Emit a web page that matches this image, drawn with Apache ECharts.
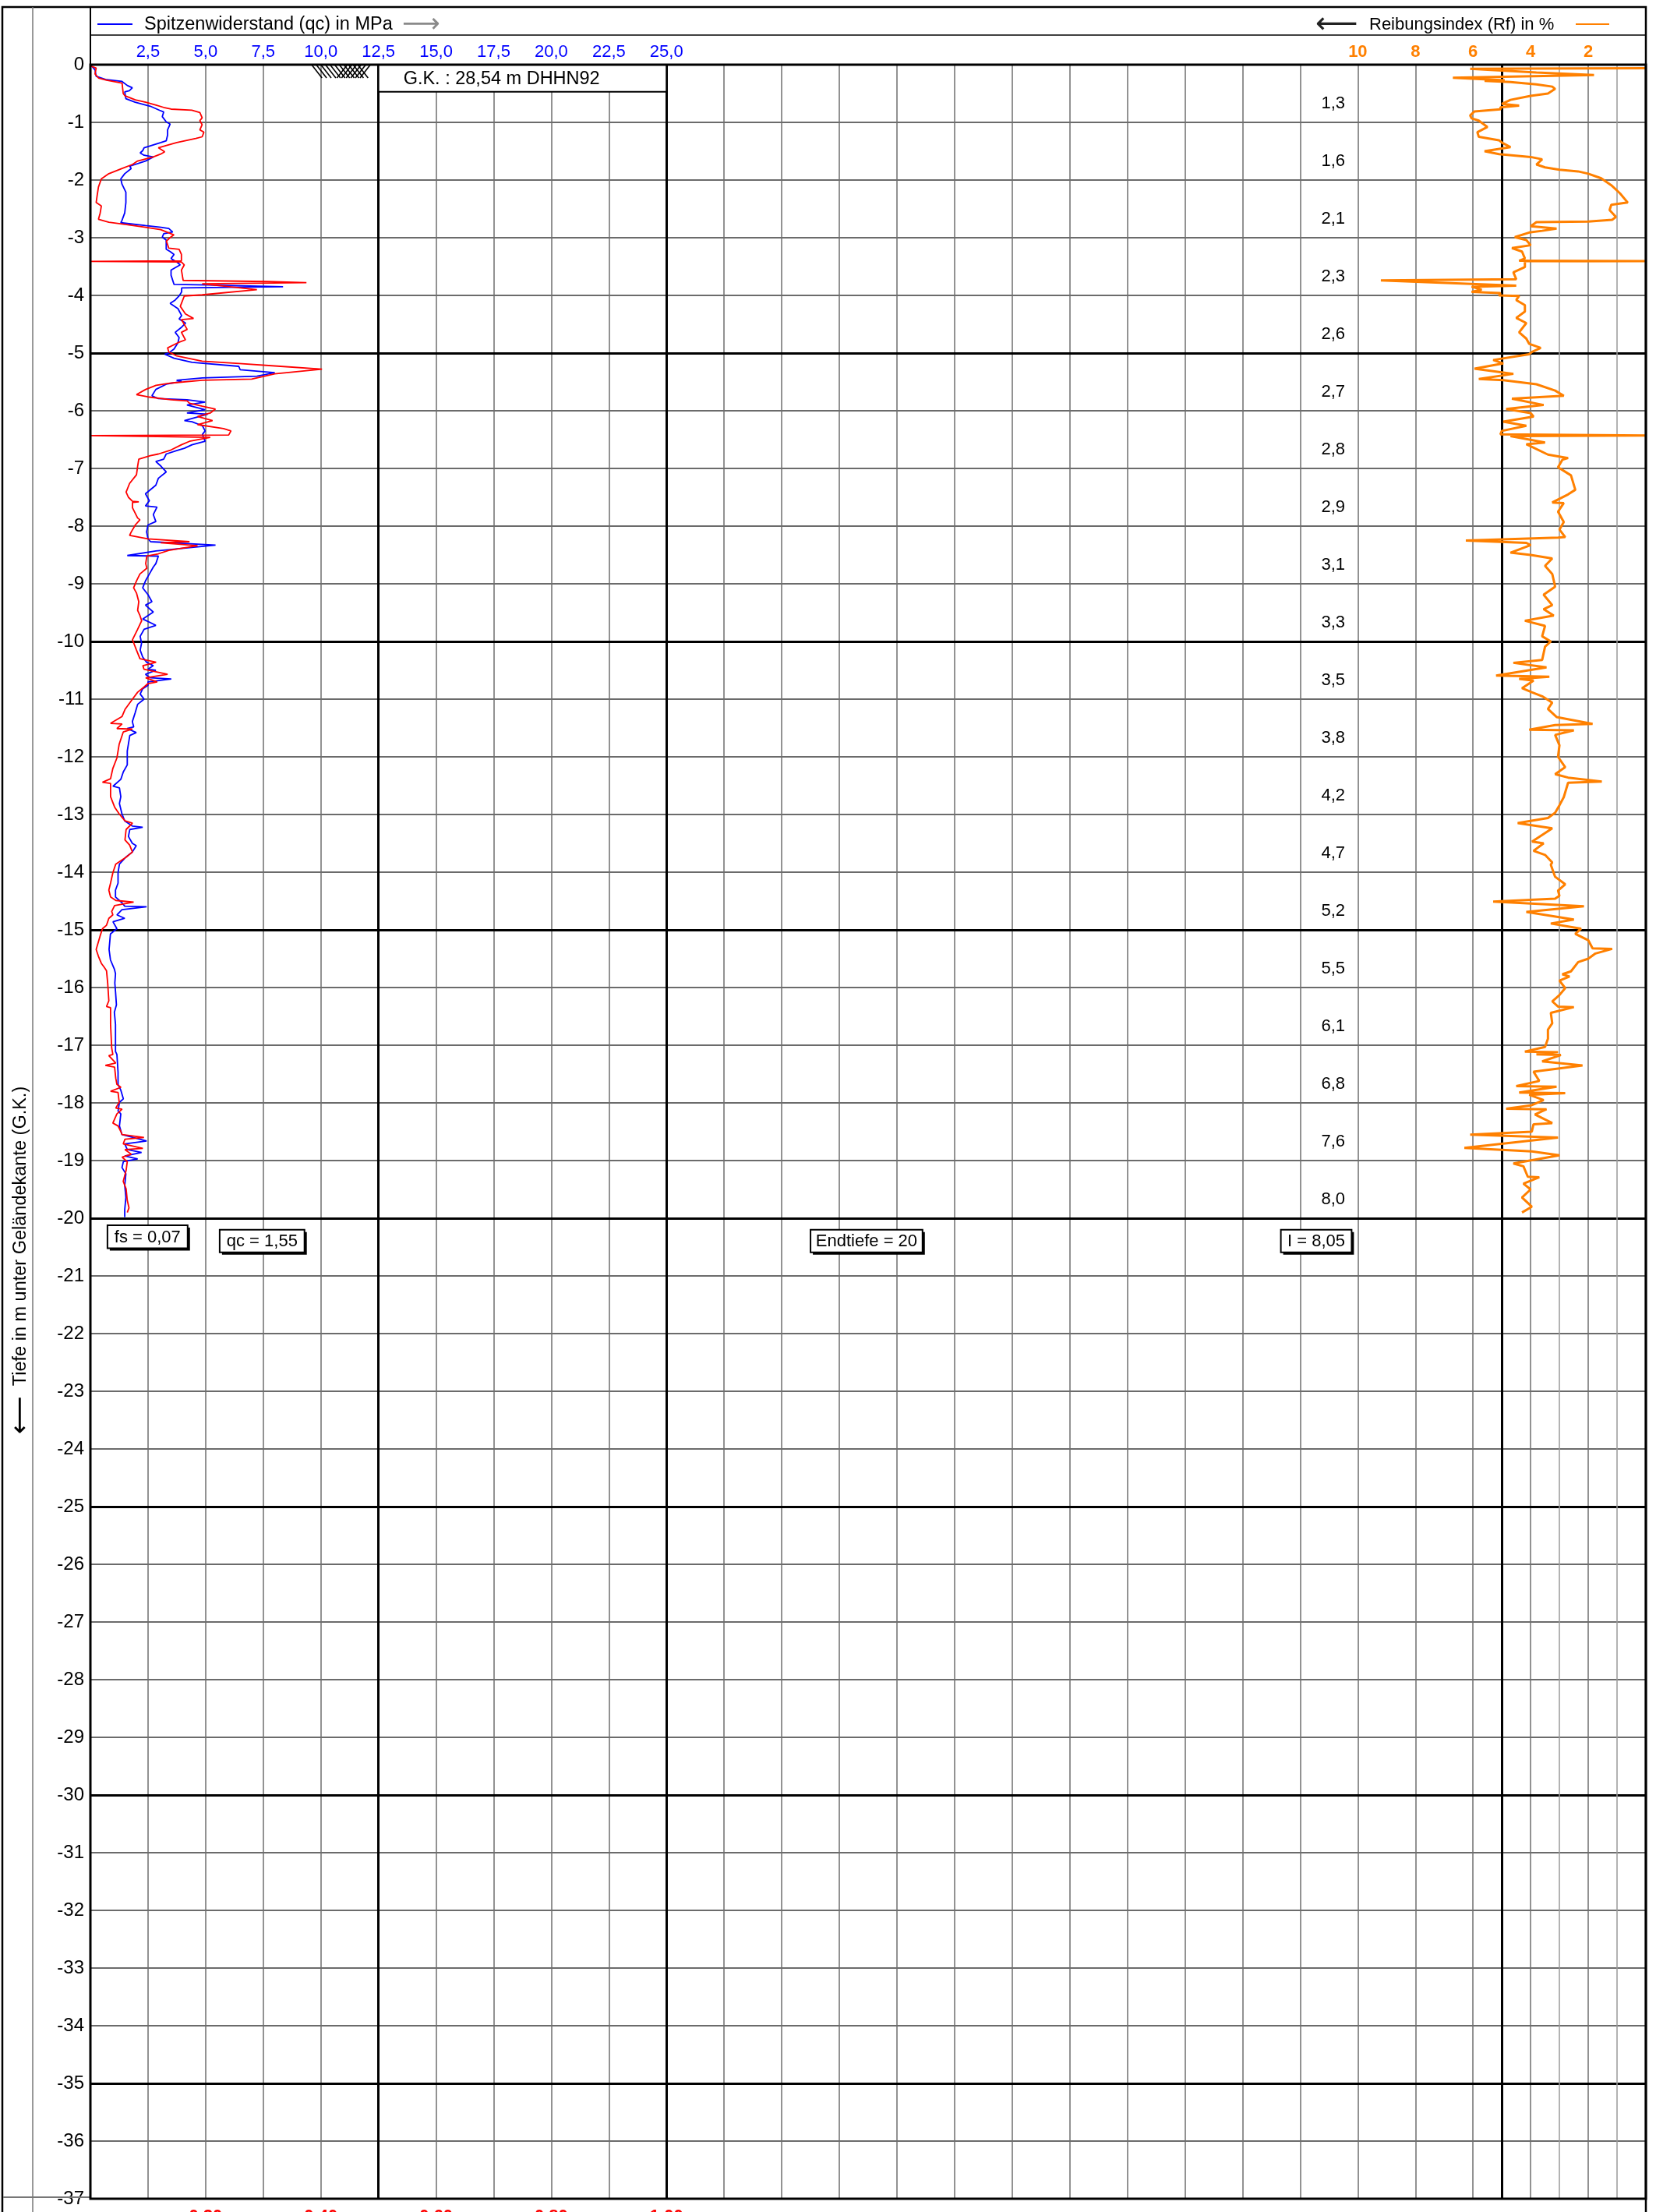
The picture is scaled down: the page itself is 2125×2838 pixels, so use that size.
<!DOCTYPE html>
<html>
<head>
<meta charset="utf-8">
<script src="https://cdn.jsdelivr.net/npm/echarts@6/dist/echarts.min.js"></script>
<style>
  html, body { margin: 0; padding: 0; background: #fff; }
  #chart { width: 2125px; height: 2838px; }
</style>
</head>
<body>
<div id="chart"></div>
<script>
// Cone resistance qc [MPa, level m]
const qcProfile = [[0,0],[0.2,-0.09],[0.25,-0.2],[0.7,-0.26],[1.37,-0.29],[1.6,-0.36],[1.82,-0.4],[1.69,-0.45],[1.49,-0.47],[1.54,-0.59],[1.94,-0.65],[2.6,-0.72],[3.0,-0.79],[3.18,-0.82],[3.12,-0.9],[3.29,-0.99],[3.46,-1.03],[3.35,-1.13],[3.35,-1.22],[3.29,-1.32],[3.06,-1.35],[2.33,-1.44],[2.27,-1.49],[2.16,-1.53],[2.33,-1.57],[2.73,-1.6],[2.39,-1.67],[1.71,-1.76],[1.77,-1.8],[1.49,-1.89],[1.32,-1.98],[1.37,-2.07],[1.54,-2.21],[1.54,-2.39],[1.49,-2.57],[1.37,-2.7],[1.32,-2.74],[2.39,-2.79],[3.06,-2.82],[3.4,-2.84],[3.57,-2.9],[3.18,-2.93],[3.12,-2.99],[3.29,-3.04],[3.29,-3.2],[3.46,-3.24],[3.63,-3.29],[3.5,-3.36],[3.74,-3.42],[3.9,-3.47],[3.5,-3.56],[3.5,-3.65],[3.63,-3.81],[5.09,-3.82],[8.36,-3.85],[6.0,-3.86],[3.96,-3.87],[3.96,-3.94],[3.85,-4.01],[3.68,-4.08],[3.46,-4.14],[3.8,-4.23],[3.96,-4.35],[3.85,-4.41],[4.13,-4.48],[3.96,-4.55],[3.68,-4.64],[3.85,-4.73],[3.8,-4.82],[3.63,-4.93],[3.4,-5.0],[3.23,-5.02],[3.63,-5.09],[4.41,-5.16],[6.44,-5.23],[6.5,-5.29],[8.0,-5.34],[7.23,-5.4],[4.86,-5.43],[3.74,-5.47],[3.96,-5.49],[3.29,-5.54],[2.84,-5.63],[2.67,-5.74],[2.95,-5.79],[4.19,-5.81],[4.98,-5.85],[4.19,-5.9],[4.98,-5.98],[4.19,-6.04],[5.09,-6.06],[4.08,-6.17],[4.41,-6.19],[4.86,-6.26],[4.98,-6.35],[4.86,-6.41],[4.98,-6.53],[4.41,-6.59],[4.08,-6.65],[3.74,-6.69],[3.29,-6.75],[3.18,-6.84],[2.84,-6.88],[3.06,-6.96],[3.29,-7.06],[2.95,-7.17],[2.84,-7.29],[2.39,-7.44],[2.56,-7.56],[2.39,-7.65],[2.89,-7.67],[2.73,-7.8],[2.84,-7.92],[2.5,-7.98],[2.44,-8.1],[2.5,-8.22],[2.61,-8.27],[5.43,-8.33],[2.84,-8.43],[1.6,-8.51],[2.95,-8.52],[2.84,-8.65],[2.73,-8.71],[2.56,-8.83],[2.39,-8.95],[2.27,-9.07],[2.5,-9.19],[2.67,-9.31],[2.39,-9.37],[2.73,-9.49],[2.27,-9.61],[2.84,-9.72],[2.33,-9.79],[2.16,-9.91],[2.22,-10.03],[2.16,-10.15],[2.27,-10.27],[2.44,-10.36],[2.73,-10.42],[2.5,-10.48],[2.84,-10.5],[2.39,-10.57],[2.61,-10.63],[3.51,-10.65],[2.5,-10.7],[2.5,-10.76],[2.27,-10.82],[2.16,-10.91],[2.33,-11.0],[2.05,-11.09],[1.94,-11.24],[1.82,-11.39],[1.88,-11.48],[1.6,-11.51],[1.99,-11.58],[1.71,-11.63],[1.6,-11.9],[1.6,-12.14],[1.43,-12.26],[1.32,-12.39],[0.98,-12.51],[1.26,-12.54],[1.32,-12.69],[1.26,-12.81],[1.37,-12.99],[1.49,-13.11],[1.82,-13.2],[2.27,-13.22],[1.71,-13.26],[1.65,-13.38],[1.82,-13.5],[1.99,-13.54],[1.82,-13.65],[1.54,-13.74],[1.26,-13.86],[1.2,-14.01],[1.2,-14.19],[1.09,-14.31],[1.09,-14.43],[1.37,-14.53],[1.49,-14.59],[2.44,-14.6],[1.37,-14.65],[1.15,-14.74],[1.49,-14.8],[0.98,-14.86],[1.15,-14.98],[0.87,-15.07],[0.81,-15.34],[0.87,-15.52],[1.04,-15.68],[1.09,-15.76],[1.06,-15.92],[1.09,-16.07],[1.13,-16.3],[1.04,-16.43],[1.09,-16.64],[1.09,-17.11],[1.15,-17.16],[1.2,-17.47],[1.2,-17.68],[1.32,-17.78],[1.43,-17.93],[1.26,-17.99],[1.2,-18.14],[1.32,-18.19],[1.26,-18.4],[1.37,-18.55],[2.44,-18.66],[1.49,-18.71],[1.6,-18.81],[2.22,-18.86],[1.49,-18.92],[2.05,-18.97],[1.43,-19.02],[1.37,-19.12],[1.54,-19.23],[1.49,-19.43],[1.54,-19.64],[1.49,-19.85],[1.49,-19.98]];

// Sleeve friction fs [MPa, level m]
const fsProfile = [[0,-0.02],[0.010,-0.06],[0.008,-0.16],[0.014,-0.23],[0.028,-0.27],[0.055,-0.32],[0.057,-0.5],[0.060,-0.54],[0.078,-0.61],[0.096,-0.65],[0.114,-0.70],[0.127,-0.74],[0.140,-0.77],[0.176,-0.79],[0.190,-0.83],[0.194,-0.92],[0.190,-0.97],[0.194,-1.04],[0.190,-1.13],[0.197,-1.17],[0.194,-1.25],[0.183,-1.28],[0.150,-1.35],[0.132,-1.40],[0.118,-1.44],[0.129,-1.51],[0.122,-1.55],[0.109,-1.60],[0.082,-1.67],[0.073,-1.73],[0.055,-1.80],[0.032,-1.89],[0.019,-1.98],[0.014,-2.12],[0.012,-2.25],[0.010,-2.39],[0.019,-2.45],[0.017,-2.57],[0.014,-2.68],[0.032,-2.73],[0.060,-2.77],[0.096,-2.82],[0.122,-2.86],[0.145,-2.95],[0.138,-3.00],[0.132,-3.06],[0.136,-3.18],[0.154,-3.20],[0.158,-3.29],[0.158,-3.40],[0,-3.41],[0.158,-3.42],[0.163,-3.47],[0.158,-3.56],[0.161,-3.74],[0.307,-3.76],[0.375,-3.78],[0.194,-3.80],[0.289,-3.90],[0.194,-3.99],[0.163,-4.01],[0.156,-4.19],[0.165,-4.32],[0.179,-4.40],[0.158,-4.42],[0.168,-4.59],[0.158,-4.64],[0.165,-4.77],[0.152,-4.82],[0.134,-4.91],[0.136,-4.98],[0.150,-5.05],[0.194,-5.14],[0.258,-5.18],[0.330,-5.23],[0.402,-5.28],[0.320,-5.36],[0.280,-5.45],[0.194,-5.47],[0.140,-5.52],[0.114,-5.56],[0.096,-5.63],[0.080,-5.72],[0.100,-5.76],[0.140,-5.81],[0.168,-5.83],[0.172,-5.87],[0.194,-5.92],[0.217,-5.97],[0.208,-6.04],[0.186,-6.10],[0.212,-6.17],[0.186,-6.24],[0.231,-6.31],[0.244,-6.35],[0.240,-6.42],[0,-6.43],[0.208,-6.46],[0.172,-6.53],[0.158,-6.59],[0.140,-6.68],[0.118,-6.75],[0.104,-6.78],[0.084,-6.84],[0.082,-6.96],[0.080,-7.11],[0.068,-7.26],[0.062,-7.41],[0.066,-7.50],[0.073,-7.57],[0.084,-7.58],[0.073,-7.59],[0.073,-7.68],[0.082,-7.86],[0.086,-7.89],[0.078,-7.98],[0.071,-8.10],[0.068,-8.16],[0.100,-8.22],[0.172,-8.27],[0.122,-8.29],[0.186,-8.34],[0.136,-8.42],[0.118,-8.48],[0.098,-8.52],[0.096,-8.65],[0.098,-8.73],[0.086,-8.83],[0.080,-8.95],[0.075,-9.07],[0.080,-9.16],[0.084,-9.31],[0.082,-9.46],[0.086,-9.55],[0.089,-9.64],[0.082,-9.79],[0.073,-9.97],[0.080,-10.15],[0.086,-10.30],[0.114,-10.36],[0.091,-10.42],[0.093,-10.48],[0.134,-10.57],[0.096,-10.63],[0.116,-10.70],[0.100,-10.73],[0.093,-10.79],[0.082,-10.88],[0.073,-11.00],[0.060,-11.18],[0.055,-11.30],[0.035,-11.42],[0.055,-11.43],[0.046,-11.51],[0.073,-11.52],[0.057,-11.57],[0.050,-11.78],[0.046,-12.02],[0.039,-12.20],[0.035,-12.38],[0.021,-12.44],[0.035,-12.46],[0.035,-12.69],[0.042,-12.87],[0.050,-12.99],[0.060,-13.11],[0.073,-13.15],[0.062,-13.26],[0.060,-13.44],[0.068,-13.53],[0.073,-13.65],[0.062,-13.74],[0.044,-13.86],[0.039,-14.01],[0.035,-14.19],[0.032,-14.31],[0.035,-14.43],[0.044,-14.49],[0.075,-14.52],[0.042,-14.58],[0.037,-14.68],[0.039,-14.74],[0.032,-14.80],[0.028,-14.92],[0.021,-14.98],[0.017,-15.10],[0.010,-15.34],[0.014,-15.46],[0.019,-15.58],[0.024,-15.65],[0.028,-15.71],[0.030,-15.92],[0.032,-16.23],[0.028,-16.33],[0.035,-16.35],[0.035,-16.64],[0.037,-17.05],[0.039,-17.16],[0.032,-17.18],[0.044,-17.31],[0.026,-17.35],[0.042,-17.38],[0.044,-17.57],[0.046,-17.68],[0.053,-17.73],[0.035,-17.80],[0.048,-17.82],[0.050,-17.99],[0.044,-18.09],[0.055,-18.11],[0.046,-18.19],[0.039,-18.35],[0.048,-18.40],[0.053,-18.50],[0.055,-18.55],[0.093,-18.60],[0.060,-18.63],[0.057,-18.71],[0.091,-18.79],[0.060,-18.81],[0.071,-18.89],[0.055,-18.94],[0.064,-19.02],[0.062,-19.17],[0.057,-19.36],[0.062,-19.49],[0.064,-19.69],[0.067,-19.82],[0.064,-19.90]];

// Friction ratio Rf [%, level m]
const rfProfile = [[0,-0.06],[6.1,-0.07],[3.8,-0.135],[1.8,-0.18],[6.7,-0.225],[4.9,-0.27],[5.6,-0.28],[4.7,-0.3],[3.8,-0.34],[3.25,-0.38],[3.15,-0.42],[3.4,-0.5],[4.0,-0.54],[4.7,-0.61],[5.0,-0.68],[4.4,-0.71],[5.05,-0.74],[5.05,-0.775],[5.95,-0.81],[6.1,-0.88],[6.05,-0.93],[5.8,-0.97],[5.5,-1.08],[5.85,-1.17],[5.8,-1.25],[5.1,-1.31],[5.0,-1.35],[4.7,-1.43],[5.6,-1.5],[5.1,-1.55],[4.0,-1.6],[3.6,-1.64],[3.8,-1.73],[3.5,-1.78],[3.0,-1.82],[2.35,-1.85],[2.0,-1.89],[1.55,-1.97],[1.2,-2.09],[0.9,-2.23],[0.63,-2.39],[1.2,-2.43],[1.26,-2.52],[1.04,-2.64],[1.17,-2.69],[2.0,-2.72],[3.8,-2.73],[4.0,-2.8],[3.1,-2.84],[3.6,-2.88],[4.05,-2.91],[4.55,-2.99],[4.15,-3.04],[4.0,-3.13],[4.65,-3.18],[4.3,-3.24],[4.2,-3.36],[4.4,-3.4],[0,-3.405],[4.2,-3.41],[4.2,-3.51],[4.6,-3.6],[4.5,-3.72],[9.2,-3.74],[4.5,-3.83],[6.05,-3.85],[5.7,-3.9],[6.05,-3.94],[5.05,-3.96],[5.1,-4.0],[4.4,-4.01],[4.5,-4.08],[4.2,-4.17],[4.2,-4.28],[4.5,-4.39],[4.15,-4.48],[4.4,-4.64],[4.15,-4.75],[4.05,-4.84],[3.65,-4.91],[3.96,-4.98],[4.05,-5.02],[5.3,-5.12],[4.95,-5.18],[5.95,-5.27],[4.6,-5.36],[5.8,-5.45],[4.95,-5.47],[3.8,-5.54],[3.15,-5.65],[2.85,-5.74],[4.65,-5.79],[3.55,-5.9],[4.85,-5.97],[4.0,-6.04],[3.9,-6.1],[4.95,-6.19],[4.15,-6.26],[5.0,-6.35],[5.05,-6.41],[0,-6.43],[4.7,-6.44],[3.5,-6.55],[4.15,-6.58],[3.4,-6.76],[2.7,-6.82],[2.9,-6.85],[3.05,-6.98],[2.6,-7.12],[2.45,-7.37],[2.7,-7.45],[3.25,-7.59],[2.85,-7.6],[3.05,-7.75],[2.85,-7.93],[3.0,-8.06],[2.8,-8.19],[3.05,-8.2],[6.25,-8.25],[4.15,-8.29],[4.0,-8.33],[4.7,-8.46],[4.0,-8.5],[3.25,-8.56],[3.5,-8.69],[3.25,-8.83],[3.15,-9.05],[3.55,-9.19],[3.25,-9.37],[3.55,-9.44],[3.2,-9.55],[4.2,-9.64],[3.5,-9.73],[3.6,-9.91],[3.3,-10.0],[3.5,-10.09],[3.6,-10.32],[4.6,-10.37],[3.45,-10.45],[5.2,-10.59],[3.35,-10.61],[4.4,-10.65],[3.9,-10.68],[4.3,-10.81],[3.96,-10.88],[3.6,-10.95],[3.25,-11.06],[3.4,-11.17],[3.1,-11.31],[1.85,-11.43],[3.15,-11.45],[4.05,-11.53],[2.5,-11.54],[3.15,-11.62],[3.0,-11.8],[3.05,-12.0],[2.8,-12.18],[3.15,-12.3],[2.7,-12.36],[1.53,-12.43],[2.7,-12.45],[2.85,-12.7],[3.0,-12.84],[3.15,-12.97],[3.4,-13.06],[4.45,-13.15],[3.25,-13.24],[3.95,-13.47],[3.55,-13.5],[3.9,-13.63],[3.5,-13.7],[3.25,-13.83],[3.3,-13.87],[3.15,-14.08],[2.8,-14.21],[3.05,-14.32],[3.0,-14.41],[3.15,-14.46],[5.3,-14.51],[2.15,-14.59],[4.15,-14.69],[2.5,-14.82],[3.3,-14.89],[2.25,-14.98],[2.45,-15.07],[2.0,-15.18],[1.85,-15.32],[1.17,-15.33],[1.75,-15.41],[2.0,-15.5],[2.35,-15.56],[2.6,-15.72],[2.9,-15.77],[2.65,-15.81],[3.0,-15.88],[2.8,-16.01],[3.0,-16.13],[3.25,-16.24],[3.05,-16.33],[2.5,-16.34],[3.3,-16.44],[3.25,-16.62],[3.4,-16.73],[3.4,-16.89],[3.5,-17.03],[4.2,-17.11],[3.05,-17.12],[3.8,-17.16],[2.95,-17.17],[3.6,-17.28],[2.2,-17.35],[3.9,-17.46],[3.7,-17.62],[4.5,-17.71],[3.1,-17.72],[4.4,-17.82],[2.8,-17.83],[4.05,-17.86],[3.55,-17.95],[3.96,-18.04],[4.85,-18.1],[3.45,-18.11],[3.85,-18.2],[3.25,-18.35],[3.9,-18.37],[3.96,-18.5],[6.1,-18.55],[3.05,-18.6],[6.3,-18.78],[3.96,-18.84],[3.0,-18.91],[4.6,-19.05],[4.25,-19.1],[4.1,-19.28],[3.7,-19.29],[4.25,-19.4],[4.0,-19.5],[4.3,-19.64],[3.96,-19.8],[4.3,-19.9]];

// Index value per metre interval and its level
const meterIndex = [1.3, 1.6, 2.1, 2.3, 2.6, 2.7, 2.8, 2.9, 3.1, 3.3, 3.5, 3.8, 4.2, 4.7, 5.2, 5.5, 6.1, 6.8, 7.6, 8.0];
const meterIndexLevel = [-0.67, -1.67, -2.67, -3.67, -4.67, -5.67, -6.67, -7.67, -8.67, -9.67, -10.67, -11.67, -12.67, -13.67, -14.67, -15.67, -16.67, -17.67, -18.67, -19.67];

// Axis tick labels and heavy rule levels
const qcTickLabels = [2.5, 5, 7.5, 10, 12.5, 15, 17.5, 20, 22.5, 25];
const rfTickLabels = [2, 4, 6, 8, 10];
const fsTickLabels = [0.2, 0.4, 0.6, 0.8, 1.0];
const heavyLevels = [-5, -10, -15, -20, -25, -30, -35];
const heavyQc = [12.5, 25];

// Annotation boxes (qc axis units / level)
const noteBoxes = [
  { text: 'G.K. : 28,54 m DHHN92', x0: 12.5, x1: 25, y0: 0, y1: -0.47, left: 32, shadow: false },
  { text: 'fs = 0,07', x0: 0.74, x1: 4.22, y0: -20.12, y1: -20.52, shadow: true },
  { text: 'qc = 1,55', x0: 5.61, x1: 9.29, y0: -20.2, y1: -20.59, shadow: true },
  { text: 'Endtiefe = 20', x0: 31.25, x1: 36.11, y0: -20.2, y1: -20.59, shadow: true },
  { text: 'I = 8,05', x0: 51.66, x1: 54.73, y0: -20.2, y1: -20.59, shadow: true }
];

const FONT = '"Liberation Sans", Arial, sans-serif';
const ARROW_FONT = '"DejaVu Sans", sans-serif';
const INDEX_COLUMN_X = 54.45;
const GRID = { left: 116, top: 83, width: 1996, height: 2738 };
const comma = (v, d) => v.toFixed(d).replace('.', ',');
const near = (list, v) => list.some(t => Math.abs(t - v) < 1e-6);
const solid = (color, width) => ({ color, width, type: 'solid' });
const txt = (align) => ({ align, verticalAlign: 'middle', textAlign: align, textVerticalAlign: 'middle' });

const chart = echarts.init(document.getElementById('chart'), null, { renderer: 'canvas', devicePixelRatio: 1 });

chart.setOption({
  animation: false,
  backgroundColor: '#fff',
  grid: { left: GRID.left, top: GRID.top, width: GRID.width, height: GRID.height, show: false, containLabel: false, outerBoundsMode: 'none' },
  xAxis: [
    { // qc
      type: 'value', min: 0, max: 67.5, interval: 2.5, position: 'top',
      axisLine: { show: false }, axisTick: { show: false },
      axisLabel: { margin: 5, color: '#0000ff', fontFamily: FONT, fontSize: 22,
        formatter: v => near(qcTickLabels, v) ? comma(v, 1) : '' },
      splitLine: { show: true, lineStyle: solid('#6e6e6e', 1.5) }
    },
    { // Rf
      type: 'value', min: 0, max: 54, interval: 2, inverse: true, position: 'top',
      axisLine: { show: false }, axisTick: { show: false },
      axisLabel: { margin: 5, color: '#ff8000', fontWeight: 'bold', fontFamily: FONT, fontSize: 22,
        formatter: v => near(rfTickLabels, v) ? String(v) : '' },
      splitLine: { show: false }
    },
    { // fs
      type: 'value', min: 0, max: 2.7, interval: 0.2, position: 'bottom',
      axisLine: { show: false }, axisTick: { show: false },
      axisLabel: { margin: 12, color: '#ff0000', fontWeight: 'bold', fontFamily: FONT, fontSize: 22,
        formatter: v => near(fsTickLabels, v) ? comma(v, 2) : '' },
      splitLine: { show: false }
    }
  ],
  yAxis: [
    {
      type: 'value', min: -37, max: 0, interval: 1,
      axisLine: { show: false }, axisTick: { show: false },
      axisLabel: { margin: 8, color: '#000', fontFamily: FONT, fontSize: 24 },
      splitLine: { show: true, lineStyle: solid('#3a3a3a', 1.5) }
    }
  ],
  series: [
    {
      name: 'Spitzenwiderstand (qc)', type: 'line', xAxisIndex: 0, yAxisIndex: 0,
      data: qcProfile, showSymbol: false, symbol: 'none', silent: true, z: 10,
      lineStyle: { color: '#0000ff', width: 1.8 },
      markLine: {
        silent: true, symbol: ['none', 'none'], label: { show: false }, z: 1, animation: false,
        lineStyle: solid('#000', 3),
        data: heavyQc.map(v => ({ xAxis: v })).concat(heavyLevels.map(v => ({ yAxis: v })))
      }
    },
    {
      name: 'Mantelreibung (fs)', type: 'line', xAxisIndex: 2, yAxisIndex: 0,
      data: fsProfile, showSymbol: false, symbol: 'none', silent: true, z: 11,
      lineStyle: { color: '#ff0000', width: 1.8 }
    },
    {
      name: 'Reibungsindex (Rf)', type: 'line', xAxisIndex: 1, yAxisIndex: 0,
      data: rfProfile, showSymbol: false, symbol: 'none', silent: true, z: 12,
      lineStyle: { color: '#ff8000', width: 3 },
      markLine: {
        silent: true, symbol: ['none', 'none'], label: { show: false }, z: 1, animation: false,
        data: [
          { xAxis: 1, lineStyle: solid('#9a9a9a', 1.5) },
          { xAxis: 3, lineStyle: solid('#9a9a9a', 1.5) },
          { xAxis: 5, lineStyle: solid('#000', 3) }
        ]
      }
    },
    { // index value per metre
      type: 'custom', xAxisIndex: 0, yAxisIndex: 0, silent: true, z: 15,
      data: meterIndex.map((v, i) => [INDEX_COLUMN_X, meterIndexLevel[i], v]),
      renderItem: (params, api) => {
        const p = api.coord([api.value(0), api.value(1)]);
        return {
          type: 'text',
          style: Object.assign({ text: comma(api.value(2), 1), x: p[0], y: p[1], fill: '#000', font: '22px ' + FONT }, txt('right'))
        };
      }
    },
    { // ground-level hatch symbol
      type: 'custom', xAxisIndex: 0, yAxisIndex: 0, silent: true, z: 16,
      data: [[9.6, 0]],
      renderItem: (params, api) => {
        const kids = [];
        for (let i = 0; i < 11; i++) {
          const a = api.coord([9.6 + 0.2 * i, 0]), b = api.coord([10.05 + 0.2 * i, -0.23]);
          kids.push({ type: 'line', shape: { x1: a[0], y1: a[1], x2: b[0], y2: b[1] }, style: { stroke: '#000', lineWidth: 1.6 } });
        }
        for (let j = 0; j < 6; j++) {
          const a = api.coord([11.15 + 0.2 * j, 0]), b = api.coord([10.7 + 0.2 * j, -0.23]);
          kids.push({ type: 'line', shape: { x1: a[0], y1: a[1], x2: b[0], y2: b[1] }, style: { stroke: '#000', lineWidth: 1.6 } });
        }
        return { type: 'group', children: kids };
      }
    },
    { // annotation boxes
      type: 'custom', xAxisIndex: 0, yAxisIndex: 0, silent: true, z: 20,
      data: noteBoxes.map(b => [b.x0, b.y0, b.x1, b.y1]),
      renderItem: (params, api) => {
        const b = noteBoxes[params.dataIndex];
        const p0 = api.coord([b.x0, b.y0]), p1 = api.coord([b.x1, b.y1]);
        const x = Math.min(p0[0], p1[0]), y = Math.min(p0[1], p1[1]);
        const w = Math.abs(p1[0] - p0[0]), h = Math.abs(p1[1] - p0[1]);
        const kids = [];
        if (b.shadow) kids.push({ type: 'rect', shape: { x: x + 3, y: y + 3, width: w, height: h }, style: { fill: '#000' } });
        kids.push({ type: 'rect', shape: { x, y, width: w, height: h }, style: { fill: '#fff', stroke: '#000', lineWidth: 2 } });
        const left = b.left != null;
        kids.push({ type: 'text', style: Object.assign({ text: b.text, x: left ? x + b.left : x + w / 2, y: y + h / 2 + 1,
          fill: '#000', font: (left ? '23.5px ' : '22px ') + FONT }, txt(left ? 'left' : 'center')) });
        return { type: 'group', children: kids };
      }
    }
  ],
  graphic: [
    // outer frame and header rules
    { type: 'rect', z: 100, silent: true, shape: { x: 3, y: 9, width: 2109, height: 2860 }, style: { fill: 'none', stroke: '#000', lineWidth: 2.5 } },
    { type: 'line', z: 100, silent: true, shape: { x1: 42, y1: 9, x2: 42, y2: 2838 }, style: { stroke: '#777', lineWidth: 1.5 } },
    { type: 'line', z: 100, silent: true, shape: { x1: 4, y1: 2819, x2: 116, y2: 2819 }, style: { stroke: '#777', lineWidth: 2 } },
    { type: 'line', z: 100, silent: true, shape: { x1: 116, y1: 9, x2: 116, y2: 83 }, style: { stroke: '#000', lineWidth: 2 } },
    { type: 'line', z: 100, silent: true, shape: { x1: 116, y1: 45, x2: 2112, y2: 45 }, style: { stroke: '#000', lineWidth: 1.5 } },
    // plot frame
    { type: 'rect', z: 100, silent: true, shape: { x: GRID.left, y: GRID.top, width: GRID.width, height: GRID.height }, style: { fill: 'none', stroke: '#000', lineWidth: 3 } },
    // header legend
    { type: 'line', z: 100, silent: true, shape: { x1: 125, y1: 31, x2: 170, y2: 31 }, style: { stroke: '#0000ff', lineWidth: 2 } },
    { type: 'text', z: 100, silent: true, style: Object.assign({ text: 'Spitzenwiderstand (qc) in MPa', x: 185, y: 32, fill: '#000', font: '23.5px ' + FONT }, txt('left')) },
    { type: 'text', z: 100, silent: true, style: Object.assign({ text: '\u27F6', x: 516, y: 32, fill: '#8a8a8a', font: '34px ' + ARROW_FONT }, txt('left')) },
    { type: 'text', z: 100, silent: true, style: Object.assign({ text: '\u27F5', x: 1688, y: 32, fill: '#222', font: '38px ' + ARROW_FONT }, txt('left')) },
    { type: 'text', z: 100, silent: true, style: Object.assign({ text: 'Reibungsindex (Rf) in %', x: 1757, y: 32, fill: '#000', font: '22px ' + FONT }, txt('left')) },
    { type: 'line', z: 100, silent: true, shape: { x1: 2022, y1: 31, x2: 2065, y2: 31 }, style: { stroke: '#ff8000', lineWidth: 2 } },
    // depth axis title
    { type: 'text', z: 100, silent: true, x: 27, y: 1586, rotation: Math.PI / 2, style: Object.assign({ text: 'Tiefe in m unter Geländekante (G.K.)', x: 0, y: 0, fill: '#000', font: '23.5px ' + FONT }, txt('center')) },
    { type: 'text', z: 100, silent: true, x: 27, y: 1816, rotation: Math.PI / 2, style: Object.assign({ text: '\u27F5', x: 0, y: 0, fill: '#000', font: '34px ' + ARROW_FONT }, txt('center')) }
  ]
});
</script>
</body>
</html>
